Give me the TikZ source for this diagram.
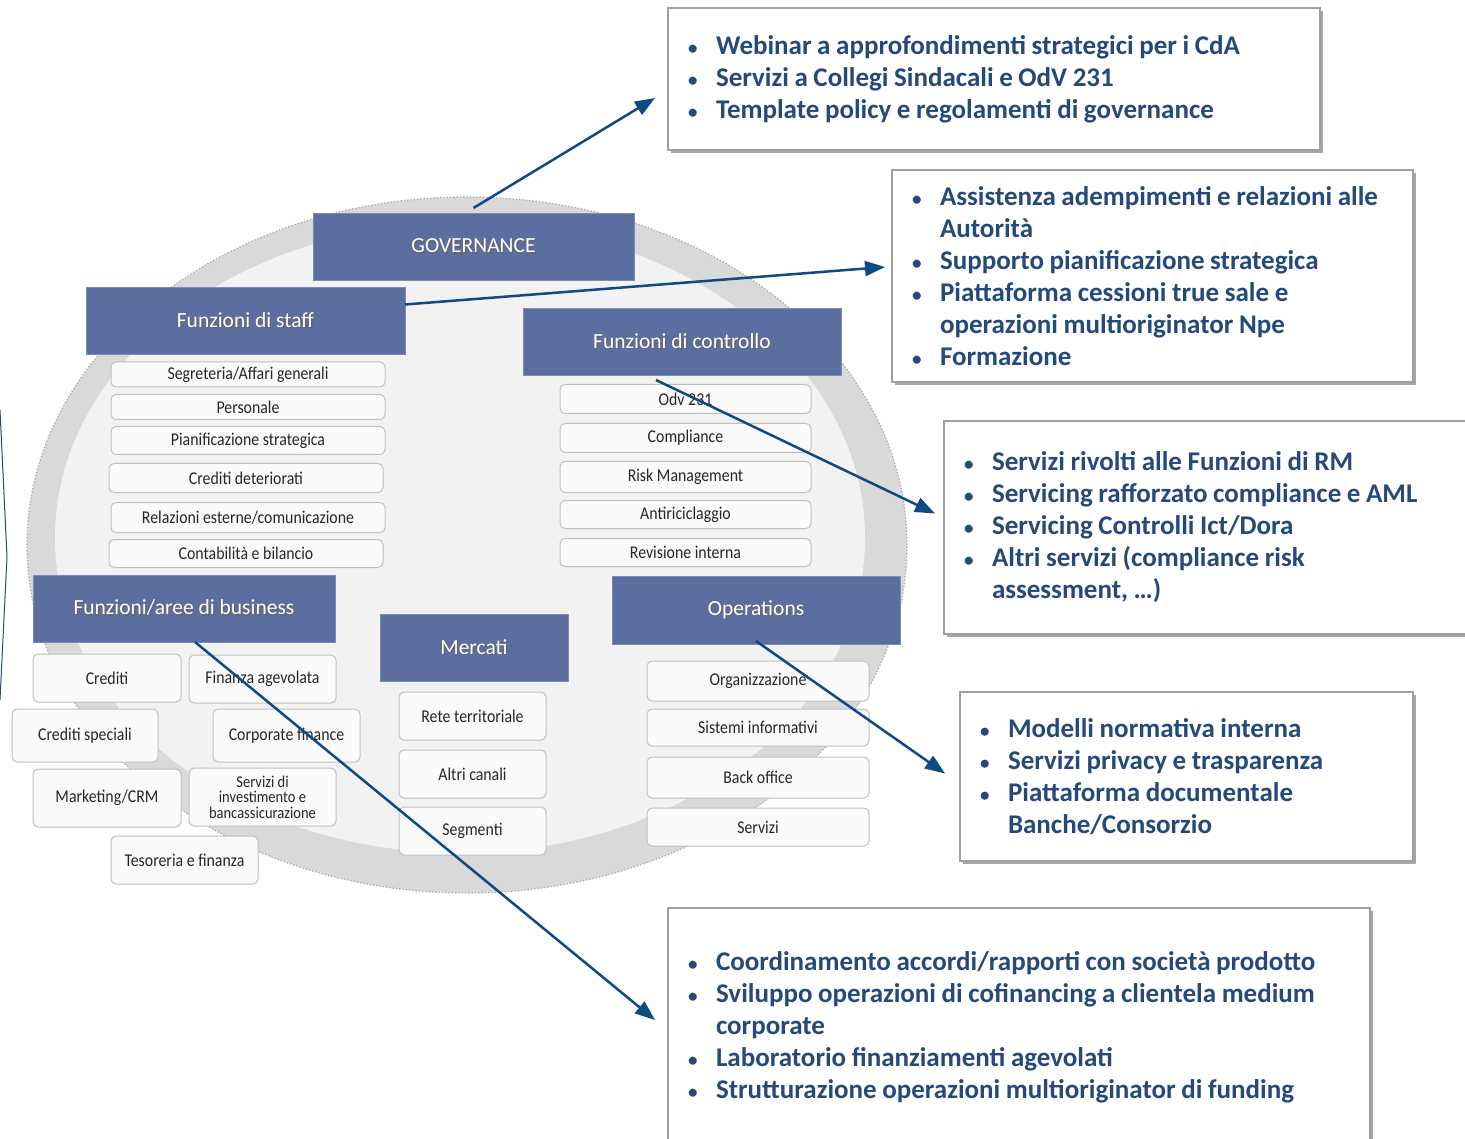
\documentclass[tikz,border=0pt]{standalone}
\usepackage{fontspec}
\setmainfont{Carlito}
\newfontfamily\boxfont[FakeStretch=0.88]{Carlito}
\newfontfamily\infofont{Carlito}
\usetikzlibrary{arrows.meta,shadows,calc}
\definecolor{hdr}{HTML}{5C6E9F}
\definecolor{txtblue}{HTML}{24497A}
\definecolor{arrblue}{HTML}{0E4A84}
\definecolor{ringcol}{HTML}{D9D9D9}
\definecolor{innercol}{HTML}{F2F2F2}
\definecolor{sbfill}{HTML}{FAFAFA}
\definecolor{sbdraw}{HTML}{BFBFBF}
\newcommand\shtxt[1]{\rlap{\kern1.3pt\raisebox{-1.3pt}{\textcolor{black!60}{#1}}}#1}
\newcommand\bitem[1]{\noindent\makebox[26pt][l]{\kern-2pt{\fontsize{19}{19}\selectfont\textbullet}}\mbox{\spaceskip=5.6pt#1}\par}
\newcommand\bcont[1]{\noindent\hspace*{26pt}\mbox{\spaceskip=5.6pt#1}\par}
\tikzset{
 hdrbox/.style={rectangle, fill=hdr, draw=hdr!80!white, line width=0.6pt, inner sep=0pt, outer sep=0pt, text=white, font=\fontsize{21.5}{24}\selectfont},
 smallbox/.style={rectangle, rounded corners=5pt, fill=sbfill, draw=sbdraw, line width=1pt, inner sep=0pt, outer sep=0pt, text=black!85, font=\boxfont\fontsize{18}{14}\selectfont, align=center},
 infobox/.style={rectangle, fill=white, draw=gray!75, line width=1.6pt, inner xsep=22pt, inner ysep=0pt, outer sep=0pt, text=txtblue, font=\infofont\bfseries\fontsize{27}{32}\selectfont, align=left, drop shadow={shadow xshift=3pt, shadow yshift=-3pt, opacity=0.35, fill=black}},
 link/.style={draw=arrblue, line width=2.5pt, -{Triangle[length=20pt,width=15pt]}},
}
\begin{document}
\begin{tikzpicture}[x=1pt,y=-1pt]
\useasboundingbox (0,0) rectangle (1465,1139);
\fill[white] (0,0) rectangle (1465,1139);
% ellipse background
\fill[ringcol] (467,545) ellipse [x radius=440pt, y radius=348pt];
\draw[gray!65, line width=1.3pt, dotted] (467,545) ellipse [x radius=440pt, y radius=348pt];
\fill[innercol] (460,538) ellipse [x radius=405pt, y radius=315pt];
% left thin line
\draw[txtblue, line width=1pt] (0,410) -- (7,557) -- (0,700);
% headers
\node[hdrbox, minimum width=321pt, minimum height=67pt] (gov) at (473.5,246.5) {\shtxt{GOVERNANCE}};
\node[hdrbox, minimum width=319pt, minimum height=67pt] (staff) at (245.5,320.5) {\shtxt{Funzioni di staff}};
\node[hdrbox, minimum width=318pt, minimum height=67pt] (ctrl) at (682,341.5) {\shtxt{Funzioni di controllo}};
\node[hdrbox, minimum width=302pt, minimum height=67pt] (bus) at (184,608.5) {\shtxt{Funzioni/aree di business}};
\node[hdrbox, minimum width=188pt, minimum height=67pt] (merc) at (474,647.5) {\shtxt{Mercati}};
\node[hdrbox, minimum width=288pt, minimum height=68pt] (ops) at (756,610) {\shtxt{Operations}};
% staff
\node[smallbox, minimum width=274pt, minimum height=25pt] (seg) at (248,374.5) {Segreteria/Affari generali};
\node[smallbox, minimum width=274pt, minimum height=25pt] (pers) at (248,407) {Personale};
\node[smallbox, minimum width=274pt, minimum height=28pt] (pian) at (248,440.5) {Pianificazione strategica};
\node[smallbox, minimum width=274pt, minimum height=29pt] (cdet) at (246,478) {Crediti deteriorati};
\node[smallbox, minimum width=274pt, minimum height=30pt] (rel) at (248,517.5) {Relazioni esterne/comunicazione};
\node[smallbox, minimum width=274pt, minimum height=28pt] (cont) at (246,553.5) {Contabilità e bilancio};
% controllo
\node[smallbox, minimum width=251pt, minimum height=29pt] (odv) at (685.5,399) {Odv 231};
\node[smallbox, minimum width=251pt, minimum height=29pt] (comp) at (685.5,438) {Compliance};
\node[smallbox, minimum width=251pt, minimum height=31pt] (risk) at (685.5,477) {Risk Management};
\node[smallbox, minimum width=251pt, minimum height=28pt] (anti) at (685.5,514.5) {Antiriciclaggio};
\node[smallbox, minimum width=251pt, minimum height=28pt] (rev) at (685.5,552.5) {Revisione interna};
% business
\node[smallbox, minimum width=148pt, minimum height=48pt] (cred) at (107,678) {Crediti};
\node[smallbox, minimum width=147pt, minimum height=48pt] (fin) at (262.5,679) {Finanza agevolata};
\node[smallbox, minimum width=146pt, minimum height=53pt] (cspec) at (85,735.5) {Crediti speciali};
\node[smallbox, minimum width=147pt, minimum height=53pt] (corp) at (286.5,735.5) {Corporate finance};
\node[smallbox, minimum width=148pt, minimum height=58pt] (mkt) at (107,798) {Marketing/CRM};
\node[smallbox, minimum width=147pt, minimum height=58pt, font=\boxfont\fontsize{16.5}{15.5}\selectfont] (sinv) at (262.5,797) {Servizi di\\investimento e\\bancassicurazione};
\node[smallbox, minimum width=147pt, minimum height=48pt] (tes) at (184.5,860) {Tesoreria e finanza};
% mercati
\node[smallbox, minimum width=147pt, minimum height=48pt] (rete) at (472.5,716) {Rete territoriale};
\node[smallbox, minimum width=147pt, minimum height=48pt] (altri) at (472.5,774) {Altri canali};
\node[smallbox, minimum width=147pt, minimum height=48pt] (segm) at (472.5,831) {Segmenti};
% operations
\node[smallbox, minimum width=222pt, minimum height=40pt] (org) at (758,681) {Organizzazione};
\node[smallbox, minimum width=222pt, minimum height=37pt] (sist) at (758,727.5) {Sistemi informativi};
\node[smallbox, minimum width=222pt, minimum height=41pt] (back) at (758,777.5) {Back office};
\node[smallbox, minimum width=222pt, minimum height=38pt] (serv) at (758,827) {Servizi};
% info boxes
\node[infobox, text width=608pt, minimum height=142pt] (boxG) at (994,79) {%
\bitem{Webinar a approfondimenti strategici per i CdA}
\bitem{Servizi a Collegi Sindacali e OdV 231}
\bitem{Template policy e regolamenti di governance}};
\node[infobox, text width=477pt, minimum height=212pt] (boxS) at (1152.5,276) {%
\bitem{Assistenza adempimenti e relazioni alle}
\bcont{Autorità}
\bitem{Supporto pianificazione strategica}
\bitem{Piattaforma cessioni true sale e}
\bcont{operazioni multioriginator Npe}
\bitem{Formazione}};
\node[infobox, text width=480pt, minimum height=213pt] (boxC) at (1206,527.5) {%
\bitem{Servizi rivolti alle Funzioni di RM}
\bitem{Servicing rafforzato compliance e AML}
\bitem{Servicing Controlli Ict/Dora}
\bitem{Altri servizi (compliance risk}
\bcont{assessment, \dots)}};
\node[infobox, text width=409pt, minimum height=169pt] (boxO) at (1186.5,776.5) {%
\bitem{Modelli normativa interna}
\bitem{Servizi privacy e trasparenza}
\bitem{Piattaforma documentale}
\bcont{Banche/Consorzio}};
\node[infobox, text width=658pt, minimum height=238pt] (boxB) at (1019,1027) {%
\bitem{Coordinamento accordi/rapporti con società prodotto}
\bitem{Sviluppo operazioni di cofinancing a clientela medium}
\bcont{corporate}
\bitem{Laboratorio finanziamenti agevolati}
\bitem{Strutturazione operazioni multioriginator di funding}};
% arrows
\draw[link] ([yshift=5pt]gov.north) -- ([xshift=-13pt,yshift=-19pt]boxG.west);
\draw[link] ([yshift=16pt]staff.east) -- ([xshift=-7pt,yshift=9pt]boxS.west);
\draw[link] ([xshift=-26pt,yshift=-5pt]ctrl.south) -- ([xshift=-9pt,yshift=14pt]boxC.west);
\draw[link] ([yshift=3pt]ops.south) -- ([xshift=-15pt,yshift=3pt]boxO.west);
\draw[link] ([xshift=11pt]bus.south) -- ([xshift=-13pt,yshift=7pt]boxB.west);
\end{tikzpicture}
\end{document}
